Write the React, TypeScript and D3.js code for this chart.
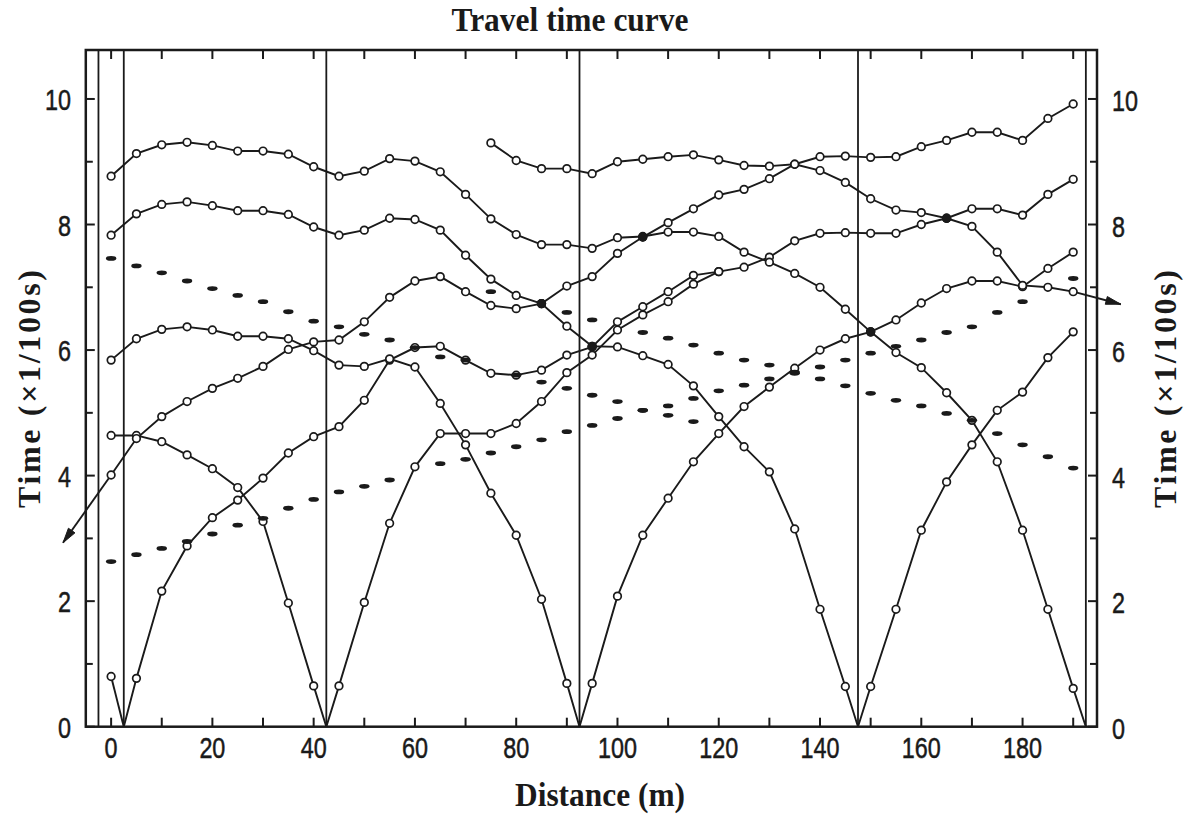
import React from 'react';
import * as d3 from 'd3';

type Pt = [number, number];

const CHART_TITLE = 'Travel time curve';
const X_TITLE = 'Distance (m)';
const Y_TITLE = 'Time (×1/100s)';

// shot point positions (m) drawn as vertical lines
const shotLines = [-2.5, 2.5, 42.5, 92.5, 147.5, 192.5];
const xMinorTicks = [0, 10, 20, 30, 40, 50, 60, 70, 80, 90, 100, 110, 120, 130, 140, 150, 160, 170, 180, 190];
const xTickLabels = [0, 20, 40, 60, 80, 100, 120, 140, 160, 180];
const yMinorTicks = [0, 1, 2, 3, 4, 5, 6, 7, 8, 9, 10];
const yTickLabels = [0, 2, 4, 6, 8, 10];

// travel-time curves: [distance m, time x1/100 s]
const reverseShot1: Pt[] = [[0, 0.8], [2.5, 0]];
const forwardShot1: Pt[] = [[2.5, 0], [5, 0.77], [10, 2.16], [15, 2.88], [20, 3.33], [25, 3.61], [30, 3.96], [35, 4.36], [40, 4.62], [45, 4.78], [50, 5.2], [55, 5.84], [60, 6.04], [65, 6.06], [70, 5.84], [75, 5.63], [80, 5.6], [85, 5.68], [90, 5.92], [95, 6.05], [100, 6.45], [105, 6.69], [110, 6.93], [115, 7.19], [120, 7.25], [125, 7.32], [130, 7.48], [135, 7.74], [140, 7.86], [145, 7.87], [150, 7.86], [155, 7.86], [160, 8.0], [165, 8.1], [170, 8.25], [175, 8.25], [180, 8.15], [185, 8.48], [190, 8.72]];
const reverseShot2: Pt[] = [[0, 4.64], [5, 4.64], [10, 4.54], [15, 4.33], [20, 4.11], [25, 3.81], [30, 3.27], [35, 1.97], [40, 0.65], [42.5, 0]];
const forwardShot2: Pt[] = [[42.5, 0], [45, 0.65], [50, 1.98], [55, 3.24], [60, 4.14], [65, 4.67], [70, 4.67], [75, 4.67], [80, 4.83], [85, 5.18], [90, 5.64], [95, 5.92], [100, 6.32], [105, 6.56], [110, 6.77], [115, 7.05], [120, 7.25]];
const reverseShot3: Pt[] = [[0, 5.84], [5, 6.18], [10, 6.33], [15, 6.37], [20, 6.32], [25, 6.22], [30, 6.22], [35, 6.18], [40, 5.99], [45, 5.76], [50, 5.74], [55, 5.86], [60, 5.73], [65, 5.15], [70, 4.49], [75, 3.72], [80, 3.05], [85, 2.03], [90, 0.69], [92.5, 0]];
const forwardShot3: Pt[] = [[92.5, 0], [95, 0.69], [100, 2.08], [105, 3.05], [110, 3.64], [115, 4.22], [120, 4.67], [125, 5.1], [130, 5.41], [135, 5.71], [140, 6.0], [145, 6.18], [150, 6.29], [155, 6.48], [160, 6.75], [165, 6.98], [170, 7.1], [175, 7.1], [180, 7.01], [185, 7.3], [190, 7.56]];
const reverseShot4: Pt[] = [[0, 7.83], [5, 8.17], [10, 8.32], [15, 8.36], [20, 8.3], [25, 8.22], [30, 8.22], [35, 8.16], [40, 7.96], [45, 7.83], [50, 7.91], [55, 8.1], [60, 8.08], [65, 7.91], [70, 7.51], [75, 7.13], [80, 6.87], [85, 6.74], [90, 6.38], [95, 6.06], [100, 6.05], [105, 5.91], [110, 5.77], [115, 5.43], [120, 4.94], [125, 4.46], [130, 4.06], [135, 3.15], [140, 1.87], [145, 0.64], [147.5, 0]];
const forwardShot4: Pt[] = [[147.5, 0], [150, 0.64], [155, 1.87], [160, 3.13], [165, 3.9], [170, 4.49], [175, 5.04], [180, 5.33], [185, 5.88], [190, 6.29]];
const reverseShot5: Pt[] = [[0, 8.77], [5, 9.13], [10, 9.27], [15, 9.31], [20, 9.26], [25, 9.17], [30, 9.17], [35, 9.12], [40, 8.92], [45, 8.77], [50, 8.85], [55, 9.05], [60, 9.01], [65, 8.84], [70, 8.48], [75, 8.09], [80, 7.84], [85, 7.68], [90, 7.68], [95, 7.62], [100, 7.79], [105, 7.81], [110, 7.88], [115, 7.88], [120, 7.81], [125, 7.56], [130, 7.4], [135, 7.22], [140, 7.0], [145, 6.65], [150, 6.29], [155, 5.96], [160, 5.72], [165, 5.32], [170, 4.88], [175, 4.22], [180, 3.13], [185, 1.87], [190, 0.61], [192.5, 0]];
const farLeftShot: Pt[] = [[0, 4.01], [5, 4.59], [10, 4.94], [15, 5.18], [20, 5.39], [25, 5.55], [30, 5.74], [35, 6.01], [40, 6.13], [45, 6.16], [50, 6.45], [55, 6.84], [60, 7.1], [65, 7.17], [70, 6.93], [75, 6.71], [80, 6.66], [85, 6.74], [90, 7.02], [95, 7.17], [100, 7.54], [105, 7.8], [110, 8.03], [115, 8.25], [120, 8.47], [125, 8.56], [130, 8.73], [135, 8.96], [140, 9.08], [145, 9.09], [150, 9.07], [155, 9.08], [160, 9.24], [165, 9.34], [170, 9.47], [175, 9.47], [180, 9.34], [185, 9.69], [190, 9.92]];
const farRightShot: Pt[] = [[75, 9.3], [80, 9.02], [85, 8.89], [90, 8.89], [95, 8.81], [100, 9.0], [105, 9.04], [110, 9.08], [115, 9.11], [120, 9.03], [125, 8.94], [130, 8.93], [135, 8.96], [140, 8.86], [145, 8.67], [150, 8.41], [155, 8.23], [160, 8.19], [165, 8.1], [170, 7.97], [175, 7.56], [180, 7.03], [185, 7.0], [190, 6.93]];
const farLeftArrowTip: Pt = [-9.5, 2.93];
const farRightArrowTip: Pt = [199.4, 6.73];

// crossing points that appear as solid dots
const solidDots: Pt[] = [[85, 6.74], [95, 6.06], [105, 7.8], [150, 6.29], [165, 8.1]];

// short-dash marker series
const dashSeriesA: Pt[] = [[0, 7.46], [5, 7.34], [10, 7.23], [15, 7.1], [20, 6.98], [25, 6.87], [30, 6.77], [35, 6.61], [40, 6.46], [45, 6.37], [50, 6.25], [55, 6.16], [60, 6.04], [65, 5.89], [70, 5.84], [80, 5.6], [85, 5.49], [90, 5.39], [95, 5.28], [100, 5.18], [105, 5.04], [110, 4.96], [115, 4.86]];
const dashSeriesB: Pt[] = [[0, 2.63], [5, 2.74], [10, 2.84], [15, 2.95], [20, 3.07], [25, 3.21], [30, 3.32], [35, 3.48], [40, 3.62], [45, 3.74], [50, 3.83], [55, 3.93], [65, 4.19], [70, 4.26], [75, 4.36], [80, 4.46], [85, 4.57], [90, 4.7], [95, 4.8], [100, 4.91], [105, 5.04], [110, 5.11], [115, 5.23], [120, 5.35], [125, 5.44], [130, 5.54], [135, 5.63], [140, 5.73], [145, 5.84], [150, 5.95], [155, 6.06], [160, 6.16], [165, 6.28], [170, 6.37], [175, 6.6], [180, 6.77], [190, 7.14]];
const dashSeriesC: Pt[] = [[75, 6.93], [90, 6.6], [95, 6.48], [105, 6.28], [110, 6.19], [115, 6.08], [120, 5.95], [125, 5.84], [130, 5.76], [135, 5.65], [140, 5.54], [145, 5.43], [150, 5.31], [155, 5.2], [160, 5.11], [165, 4.99], [170, 4.88], [175, 4.67], [180, 4.49], [185, 4.3], [190, 4.12]];

const curves: Pt[][] = [reverseShot1, forwardShot1, reverseShot2, forwardShot2, reverseShot3, forwardShot3, reverseShot4, forwardShot4, reverseShot5, farLeftShot, farRightShot];
const dashSeries: Pt[][] = [dashSeriesA, dashSeriesB, dashSeriesC];

const INK = '#1a1a1a';
const SERIF = '"Liberation Serif", "Times New Roman", serif';
const SANS = '"Liberation Sans", Arial, sans-serif';

export default function App() {
  const left = 85.8, right = 1097, top = 50, bottom = 726.7;
  const x = d3.scaleLinear().domain([-5, 194.7]).range([left, right]);
  const y = d3.scaleLinear().domain([0, 10.78]).range([bottom, top]);
  const line = d3.line<Pt>().x((d) => x(d[0])).y((d) => y(d[1]));

  const arrowHead = (from: Pt, tip: Pt) => {
    const fx = x(from[0]), fy = y(from[1]);
    const tx = x(tip[0]), ty = y(tip[1]);
    const dx = tx - fx, dy = ty - fy;
    const len = Math.hypot(dx, dy);
    const ux = dx / len, uy = dy / len;
    const L = 15, Wd = 4;
    const bx = tx - ux * L, by = ty - uy * L;
    return `M${tx},${ty}L${bx - uy * Wd},${by + ux * Wd}L${bx + uy * Wd},${by - ux * Wd}Z`;
  };

  const digitW = 13;
  const numStyle = { fontFamily: SANS, fontSize: 29, fill: INK, stroke: INK, strokeWidth: 0.5 } as const;

  return (
    <svg width={1185} height={815} style={{ position: 'absolute', left: 0, top: 0, background: '#fff' }}>
      <rect x={0} y={0} width={1185} height={815} fill="#fff" />
      <text x={570} y={31} textAnchor="middle" fontFamily={SERIF} fontWeight="bold" fontSize={34}
        textLength={237} lengthAdjust="spacingAndGlyphs" fill={INK}>{CHART_TITLE}</text>

      {/* frame */}
      <rect x={left} y={top} width={right - left} height={bottom - top} fill="none" stroke={INK} strokeWidth={2.5} />

      {/* shot lines */}
      {shotLines.map((s) => (
        <line key={'s' + s} x1={x(s)} x2={x(s)} y1={top} y2={bottom} stroke={INK} strokeWidth={1.8} />
      ))}

      {/* x ticks */}
      {xMinorTicks.map((t) => (
        <g key={'xt' + t}>
          <line x1={x(t)} x2={x(t)} y1={bottom} y2={bottom - 9} stroke={INK} strokeWidth={2} />
          <line x1={x(t)} x2={x(t)} y1={top} y2={top + 9} stroke={INK} strokeWidth={2} />
        </g>
      ))}
      {xTickLabels.map((t) => (
        <text key={'xl' + t} x={x(t)} y={758} textAnchor="middle" {...numStyle}
          textLength={String(t).length * digitW} lengthAdjust="spacingAndGlyphs">{t}</text>
      ))}

      {/* y ticks */}
      {yMinorTicks.map((t) => {
        const major = t % 2 === 0;
        const L = major ? 9 : 7;
        return (
          <g key={'yt' + t}>
            <line x1={left} x2={left + L} y1={y(t)} y2={y(t)} stroke={INK} strokeWidth={2} />
            <line x1={right} x2={right - L} y1={y(t)} y2={y(t)} stroke={INK} strokeWidth={2} />
          </g>
        );
      })}
      {yTickLabels.map((t) => (
        <g key={'yl' + t}>
          <text x={71} y={y(t) + 11} textAnchor="end" {...numStyle}
            textLength={String(t).length * digitW} lengthAdjust="spacingAndGlyphs">{t}</text>
          <text x={1112} y={y(t) + 12} textAnchor="start" {...numStyle}
            textLength={String(t).length * digitW} lengthAdjust="spacingAndGlyphs">{t}</text>
        </g>
      ))}

      {/* axis titles */}
      <text x={600} y={806} textAnchor="middle" fontFamily={SERIF} fontWeight="bold" fontSize={34}
        textLength={170} lengthAdjust="spacingAndGlyphs" fill={INK}>{X_TITLE}</text>
      <text transform="translate(40,389) rotate(-90)" textAnchor="middle" fontFamily={SERIF} fontWeight="bold" fontSize={32}
        textLength={238} lengthAdjust="spacing" fill={INK}>{Y_TITLE}</text>
      <text transform="translate(1176,389) rotate(-90)" textAnchor="middle" fontFamily={SERIF} fontWeight="bold" fontSize={32}
        textLength={238} lengthAdjust="spacing" fill={INK}>{Y_TITLE}</text>

      {/* curves */}
      {curves.map((c, i) => (
        <path key={'c' + i} d={line(c) || ''} fill="none" stroke={INK} strokeWidth={1.9} />
      ))}
      {/* far-shot extensions with arrows */}
      <path d={line([farLeftShot[0], farLeftArrowTip]) || ''} fill="none" stroke={INK} strokeWidth={1.9} />
      <path d={arrowHead(farLeftShot[0], farLeftArrowTip)} fill={INK} stroke={INK} strokeWidth={1} />
      <path d={line([farRightShot[farRightShot.length - 1], farRightArrowTip]) || ''} fill="none" stroke={INK} strokeWidth={1.9} />
      <path d={arrowHead(farRightShot[farRightShot.length - 1], farRightArrowTip)} fill={INK} stroke={INK} strokeWidth={1} />

      {/* point markers */}
      {curves.map((c, i) => (
        <g key={'m' + i}>
          {c.filter((p) => p[1] > 0).map((p, j) => (
            <circle key={j} cx={x(p[0])} cy={y(p[1])} r={3.8} fill="#fff" stroke={INK} strokeWidth={1.7} />
          ))}
        </g>
      ))}
      {solidDots.map((p, j) => (
        <circle key={'sd' + j} cx={x(p[0])} cy={y(p[1])} r={4.6} fill={INK} />
      ))}

      {/* dash markers */}
      {dashSeries.map((s, i) => (
        <g key={'d' + i}>
          {s.map((p, j) => (
            <ellipse key={j} cx={x(p[0])} cy={y(p[1])} rx={5.2} ry={2.4} fill={INK} />
          ))}
        </g>
      ))}
    </svg>
  );
}
